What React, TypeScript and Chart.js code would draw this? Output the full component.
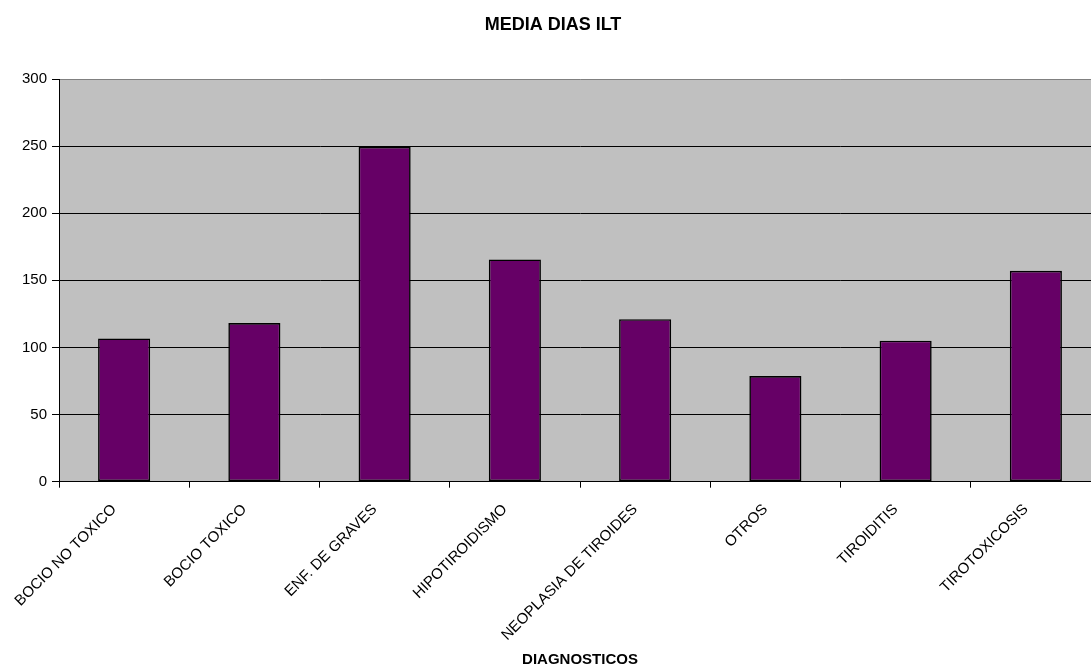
import React, { useEffect, useRef } from "react";
import { Chart, registerables } from "chart.js";

Chart.register(...registerables);

// Diagnostic categories and mean days of sick leave (ILT) per diagnosis
const categories = [
  "BOCIO NO TOXICO",
  "BOCIO TOXICO",
  "ENF. DE GRAVES",
  "HIPOTIROIDISMO",
  "NEOPLASIA DE TIROIDES",
  "OTROS",
  "TIROIDITIS",
  "TIROTOXICOSIS",
];
const mediaDias = [106.7, 118.2, 249.5, 165.6, 121.1, 78.7, 105, 157.1];
const yTicks = [0, 50, 100, 150, 200, 250, 300];

const chartTitle = "MEDIA DIAS ILT";
const xTitle = "DIAGNOSTICOS";

const FONT = "'Liberation Sans', Arial, sans-serif";

// Grey plot background plus the two bold titles
const decorations = {
  id: "decorations",
  beforeDraw(chart: any) {
    const { ctx, chartArea } = chart;
    ctx.save();
    ctx.fillStyle = "#C0C0C0";
    ctx.fillRect(
      chartArea.left,
      chartArea.top,
      chartArea.right - chartArea.left,
      chartArea.bottom - chartArea.top
    );
    ctx.restore();
  },
  afterDraw(chart: any) {
    const { ctx, chartArea } = chart;
    ctx.save();
    ctx.fillStyle = "#000";
    ctx.textAlign = "center";
    ctx.textBaseline = "alphabetic";
    ctx.font = `bold 18px ${FONT}`;
    ctx.fillText(chartTitle, 553, 30);
    ctx.font = `bold 15px ${FONT}`;
    ctx.fillText(xTitle, (chartArea.left + chartArea.right) / 2, 664);
    ctx.restore();
  },
};

export default function App() {
  const canvasRef = useRef<HTMLCanvasElement | null>(null);

  useEffect(() => {
    if (!canvasRef.current) return;
    const chart = new Chart(canvasRef.current, {
      type: "bar",
      data: {
        labels: categories,
        datasets: [
          {
            data: mediaDias,
            backgroundColor: "#660066",
            borderColor: "#000000",
            borderWidth: 1.6,
            borderSkipped: false,
            barPercentage: 0.4,
            categoryPercentage: 1,
          },
        ],
      },
      options: {
        animation: false,
        responsive: false,
        devicePixelRatio: 1,
        layout: { padding: { top: 79, left: 0, right: 9, bottom: 0 } },
        plugins: {
          legend: { display: false },
          title: { display: false },
          tooltip: { enabled: false },
        },
        scales: {
          x: {
            offset: true,
            afterFit(scale: any) {
              scale.height = 182.3;
            },
            grid: {
              display: true,
              offset: true,
              drawOnChartArea: false,
              drawTicks: true,
              tickLength: 6,
              color: "#000",
            },
            border: { display: true, color: "#000" },
            ticks: {
              autoSkip: false,
              minRotation: 45,
              maxRotation: 45,
              color: "#000",
              padding: 13,
              labelOffset: -10,
              font: { family: FONT, size: 15 },
            },
          },
          y: {
            min: 0,
            max: 300,
            afterFit(scale: any) {
              scale.width = 59;
            },
            afterBuildTicks(scale: any) {
              scale.ticks = yTicks.map((v) => ({ value: v }));
            },
            grid: {
              color: (c: any) => (c.tick && c.tick.value === 300 ? "#808080" : "#000"),
              lineWidth: 1,
              drawTicks: true,
              tickLength: 7,
              tickColor: "#000",
            },
            border: { display: true, color: "#000" },
            ticks: {
              color: "#000",
              padding: 5,
              font: { family: FONT, size: 15 },
            },
          },
        },
      },
      plugins: [decorations],
    });
    return () => chart.destroy();
  }, []);

  return (
    <div
      style={{
        position: "fixed",
        left: 0,
        top: 0,
        width: 1091,
        height: 664,
        overflow: "hidden",
        background: "#fff",
      }}
    >
      <canvas ref={canvasRef} width={1110} height={664} style={{ display: "block" }} />
    </div>
  );
}
